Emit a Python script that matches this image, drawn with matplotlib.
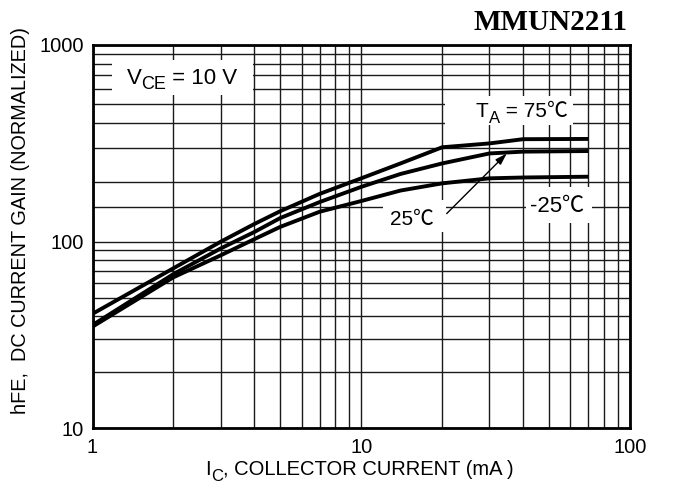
import numpy as np
import matplotlib
matplotlib.use("Agg")
import matplotlib.pyplot as plt
from matplotlib.transforms import IdentityTransform
from matplotlib.patches import Rectangle

# ---------------- data ----------------
ic_ma = [1, 2, 3, 4, 5, 7, 10, 14, 20, 30, 40, 70]
hfe_75 = [41, 72, 100, 123, 143, 175, 210, 250, 302, 316, 332, 333]
hfe_25 = [35.7, 67, 92, 112, 132, 159, 190, 221, 250, 281, 287, 289]
hfe_m25 = [35.0, 64.4, 84.5, 103, 119, 142, 161, 182, 198, 210, 212, 214]

x_ticks = [1, 10, 100]
x_ticklabels = ["1", "10", "100"]
y_ticks = [10, 100, 1000]
y_ticklabels = ["10", "100", "1000"]
x_minor = [2, 3, 4, 5, 6, 7, 8, 9, 20, 30, 40, 50, 60, 70, 80, 90]
y_minor = [20, 30, 40, 50, 60, 70, 80, 90, 150, 200, 300, 400, 500, 600, 700, 800, 900]

title = "MMUN2211"
x_label_main = "I"
x_label_sub = "C"
x_label_rest = ", COLLECTOR CURRENT (mA )"
y_label = "hFE,  DC CURRENT GAIN (NORMALIZED)"

SANS = ["Liberation Sans", "DejaVu Sans"]
CJK = ["Noto Sans CJK SC", "DejaVu Sans"]

# the scanned chart has slightly unequal decades on the y axis
D_LO, D_HI = 186.3, 196.7


def fwd(v):
    v = np.asarray(v, dtype=float)
    l = np.log10(np.where(v > 0, v, 1e-300))
    return np.where(l <= 2, (l - 1) * D_LO, D_LO + (l - 2) * D_HI)


def inv(u):
    u = np.asarray(u, dtype=float)
    return np.where(u <= D_LO, 10 ** (u / D_LO + 1), 10 ** ((u - D_LO) / D_HI + 2))


fig = plt.figure(figsize=(6.73, 4.92), dpi=100)
ax = fig.add_axes([92.5 / 673, 64 / 492, 537.5 / 673, 383 / 492])
ax.set_xscale("log")
ax.set_yscale("function", functions=(fwd, inv))
ax.set_xlim(1, 100)
ax.set_ylim(10, 1000)

ax.set_xticks(x_ticks)
ax.set_xticklabels(x_ticklabels)
ax.set_xticks(x_minor, minor=True)
ax.set_xticklabels([], minor=True)
ax.set_yticks(y_ticks)
ax.set_yticklabels(y_ticklabels)
ax.set_yticks(y_minor, minor=True)
ax.set_yticklabels([], minor=True)
ax.tick_params(which="both", length=0)
ax.tick_params(axis="x", pad=7, labelsize=14.5)
ax.tick_params(axis="y", pad=6, labelsize=14.5)
for lab in ax.get_xticklabels() + ax.get_yticklabels():
    lab.set_family(SANS)

ax.set_axisbelow(True)
ax.grid(True, which="both", color="#1a1a1a", linewidth=1.0)
for s in ax.spines.values():
    s.set_linewidth(2.0)
    s.set_color("black")

# curves
for h in (hfe_75, hfe_25, hfe_m25):
    ax.plot(ic_ma, h, color="black", linewidth=2.8, solid_capstyle="butt",
            solid_joinstyle="round", zorder=3)

# white boxes behind the labels (break the grid)
boxes = [((1.18, 557), (3.96, 839)),
         ((20.5, 392), (61.4, 548)),
         ((12.05, 112), (20.6, 163)),
         ((41.0, 124.5), (72.3, 190))]
for (x0, y0), (x1, y1) in boxes:
    ax.add_patch(Rectangle((x0, y0), x1 - x0, y1 - y0, facecolor="white",
                           edgecolor="none", zorder=1.5))

# arrow 25C
ax.annotate("", xy=(34.8, 281), xytext=(20.8, 139),
            arrowprops=dict(arrowstyle="-|>,head_length=0.7,head_width=0.22",
                            color="black", lw=1.0, shrinkA=0, shrinkB=0),
            zorder=4)

renderer = fig.canvas.get_renderer()


def rich(x, y, pieces, transform, ha="left"):
    X, Y = transform.transform((x, y))
    items = []
    for s, size, dy, fam in pieces:
        t = fig.text(0, 0, s, fontsize=size, family=fam,
                     transform=IdentityTransform(), va="baseline", ha="left",
                     zorder=5)
        w = t.get_window_extent(renderer).width
        items.append((t, dy, w))
    total = sum(w for _, _, w in items)
    if ha == "center":
        X -= total / 2
    elif ha == "right":
        X -= total
    cx = X
    for t, dy, w in items:
        t.set_position((cx, Y + dy * fig.dpi / 72))
        cx += w


rich(1.34, 634, [("V", 16, 0, SANS), ("CE", 13, -4, SANS),
                 (" = 10 V", 16, 0, SANS)], ax.transData)
rich(26.7, 430, [("T", 15, 0, SANS), ("A", 12, -4, SANS),
                 (" = 75", 15, 0, SANS), ("\u2103", 15, 0, CJK)], ax.transData)
rich(12.8, 122, [("25", 15, 0, SANS), ("\u2103", 15, 0, CJK)], ax.transData)
rich(42.5, 141.6, [("-25", 16, 0, SANS), ("\u2103", 16, 0, CJK)], ax.transData)

# axis labels
rich(205, 492 - 475, [(x_label_main, 14.5, 0, SANS), (x_label_sub, 12, -4, SANS),
                      (x_label_rest, 14.5, 0, SANS)],
     IdentityTransform())
fig.text(21 / 673, 1 - 220 / 492, y_label,
         rotation=90, ha="center", va="center", fontsize=14.3, family=SANS)

fig.text(628 / 673, 1 - 30 / 492, title, ha="right", va="baseline",
         fontsize=21, fontweight="bold", family=["Liberation Serif", "DejaVu Serif"])

fig.savefig("out.png", dpi=100)
